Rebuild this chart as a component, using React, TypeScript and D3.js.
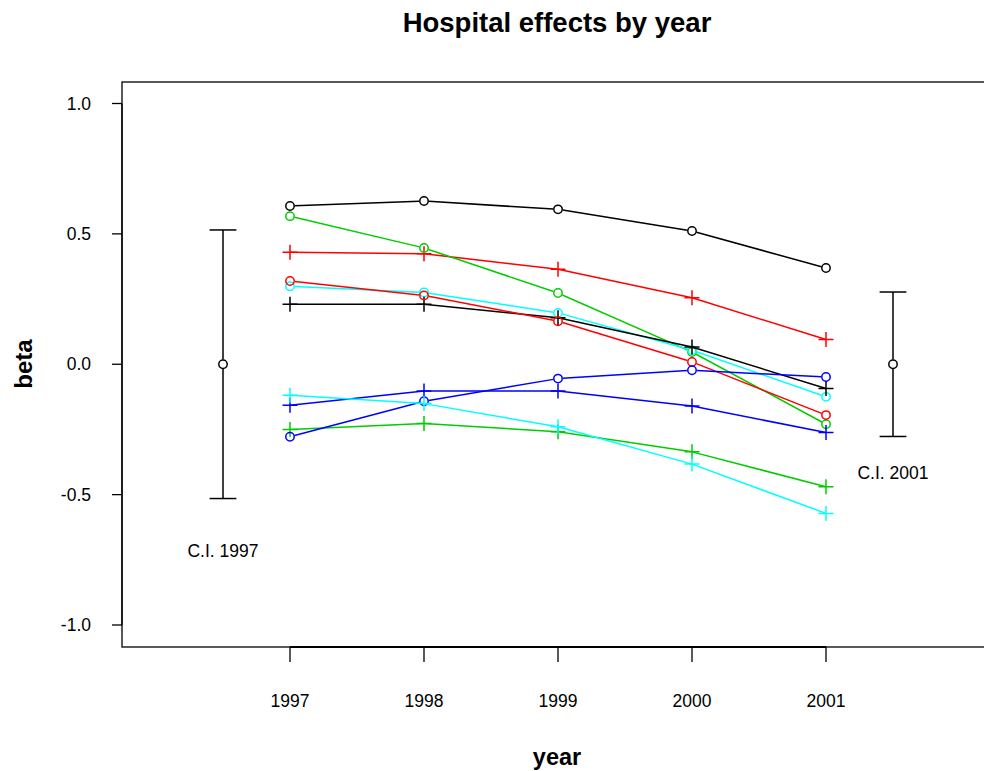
import React from 'react';
import * as d3 from 'd3';

// years on the x axis
const years = [1997, 1998, 1999, 2000, 2001];
const yTicks = [-1, -0.5, 0, 0.5, 1];

// hospital effects, one array per hospital (drawn in this order)
const blackCircle = [0.607, 0.626, 0.594, 0.511, 0.369];
const redPlus = [0.430, 0.424, 0.364, 0.255, 0.095];
const greenCircle = [0.568, 0.446, 0.273, 0.047, -0.230];
const bluePlus = [-0.157, -0.103, -0.103, -0.160, -0.262];
const cyanCircle = [0.299, 0.275, 0.197, 0.054, -0.125];
const blackPlus = [0.230, 0.230, 0.178, 0.066, -0.093];
const redCircle = [0.319, 0.264, 0.165, 0.009, -0.195];
const greenPlus = [-0.250, -0.227, -0.259, -0.336, -0.470];
const blueCircle = [-0.278, -0.142, -0.055, -0.023, -0.049];
const cyanPlus = [-0.119, -0.151, -0.240, -0.383, -0.572];

// confidence intervals
const ciYears = [1996.5, 2001.5];
const ciHalfWidth = [0.515, 0.277];
const ciLabels = ['C.I. 1997', 'C.I. 2001'];
const ciLabelAt = [-0.715, -0.415];

const series = [
  { values: blackCircle, color: '#000000', pch: 'circle' },
  { values: redPlus, color: '#FF0000', pch: 'plus' },
  { values: greenCircle, color: '#00CD00', pch: 'circle' },
  { values: bluePlus, color: '#0000FF', pch: 'plus' },
  { values: cyanCircle, color: '#00FFFF', pch: 'circle' },
  { values: blackPlus, color: '#000000', pch: 'plus' },
  { values: redCircle, color: '#FF0000', pch: 'circle' },
  { values: greenPlus, color: '#00CD00', pch: 'plus' },
  { values: blueCircle, color: '#0000FF', pch: 'circle' },
  { values: cyanPlus, color: '#00FFFF', pch: 'plus' },
];

const W = 984;
const H = 771;
const box = { left: 122, right: 992, top: 82, bottom: 647 };
const R = 4.2; // circle radius
const P = 7.5; // plus half size
const font = '"Liberation Sans", Arial, Helvetica, sans-serif';

const x = d3.scaleLinear().domain([1997, 2001]).range([290, 826]);
const y = d3.scaleLinear().domain([-1, 1]).range([625, 103.5]);

// segment between two points, trimmed around circle symbols (type = "b")
function trimmed(x1: number, y1: number, x2: number, y2: number, g1: number, g2: number) {
  const dx = x2 - x1;
  const dy = y2 - y1;
  const len = Math.sqrt(dx * dx + dy * dy);
  if (len <= g1 + g2) return null;
  const ux = dx / len;
  const uy = dy / len;
  return [x1 + ux * g1, y1 + uy * g1, x2 - ux * g2, y2 - uy * g2];
}

const App: React.FC = () => {
  return (
    <div style={{ position: 'fixed', left: 0, top: 0 }}>
      <svg width={W} height={H} style={{ display: 'block', background: '#fff' }} fontFamily={font}>
        {/* title */}
        <text x={557} y={32} textAnchor="middle" fontSize={27.5} fontWeight="bold">
          Hospital effects by year
        </text>

        {/* plot box */}
        <rect
          x={box.left}
          y={box.top}
          width={box.right - box.left}
          height={box.bottom - box.top}
          fill="none"
          stroke="#000"
          strokeWidth={1.3}
        />

        {/* y axis */}
        <line x1={box.left} x2={box.left} y1={y(1)} y2={y(-1)} stroke="#000" strokeWidth={1.3} />
        {yTicks.map(t => (
          <g key={t}>
            <line x1={box.left - 10} x2={box.left} y1={y(t)} y2={y(t)} stroke="#000" strokeWidth={1.3} />
            <text x={91} y={y(t)} dy="0.35em" textAnchor="end" fontSize={17.5}>
              {t.toFixed(1)}
            </text>
          </g>
        ))}

        {/* x axis */}
        <line x1={x(1997)} x2={x(2001)} y1={box.bottom} y2={box.bottom} stroke="#000" strokeWidth={2} />
        {years.map(yr => (
          <g key={yr}>
            <line x1={x(yr)} x2={x(yr)} y1={box.bottom} y2={box.bottom + 15} stroke="#000" strokeWidth={1.3} />
            <text x={x(yr)} y={706.5} textAnchor="middle" fontSize={17.5}>
              {yr}
            </text>
          </g>
        ))}

        {/* axis titles */}
        <text x={557} y={765} textAnchor="middle" fontSize={23.5} fontWeight="bold">
          year
        </text>
        <text transform={`translate(32,364) rotate(-90)`} textAnchor="middle" fontSize={24} fontWeight="bold">
          beta
        </text>

        {/* series */}
        {series.map((s, i) => (
          <g key={i} stroke={s.color} strokeWidth={1.5} fill="none">
            {s.values.slice(1).map((v, j) => {
              const g1 = s.pch === 'circle' ? R + 0.5 : 0;
              const seg = trimmed(x(years[j]), y(s.values[j]), x(years[j + 1]), y(v), g1, g1);
              if (!seg) return null;
              return <line key={j} x1={seg[0]} y1={seg[1]} x2={seg[2]} y2={seg[3]} />;
            })}
            {s.values.map((v, j) =>
              s.pch === 'circle' ? (
                <circle key={`p${j}`} cx={x(years[j])} cy={y(v)} r={R} />
              ) : (
                <path
                  key={`p${j}`}
                  d={`M${x(years[j]) - P},${y(v)}H${x(years[j]) + P}M${x(years[j])},${y(v) - P}V${y(v) + P}`}
                />
              )
            )}
          </g>
        ))}

        {/* confidence intervals */}
        {ciYears.map((cy, i) => {
          const cx = x(cy);
          const top = y(ciHalfWidth[i]);
          const bot = y(-ciHalfWidth[i]);
          const mid = y(0);
          return (
            <g key={cy} stroke="#000" strokeWidth={1.5} fill="none">
              <line x1={cx - 13.4} x2={cx + 13.4} y1={top} y2={top} />
              <line x1={cx - 13.4} x2={cx + 13.4} y1={bot} y2={bot} />
              <line x1={cx} x2={cx} y1={top} y2={mid - R - 0.5} />
              <line x1={cx} x2={cx} y1={mid + R + 0.5} y2={bot} />
              <circle cx={cx} cy={mid} r={R} />
              <text x={cx} y={y(ciLabelAt[i])} dy="0.35em" textAnchor="middle" fontSize={17.5} stroke="none" fill="#000">
                {ciLabels[i]}
              </text>
            </g>
          );
        })}
      </svg>
    </div>
  );
};

export default App;
